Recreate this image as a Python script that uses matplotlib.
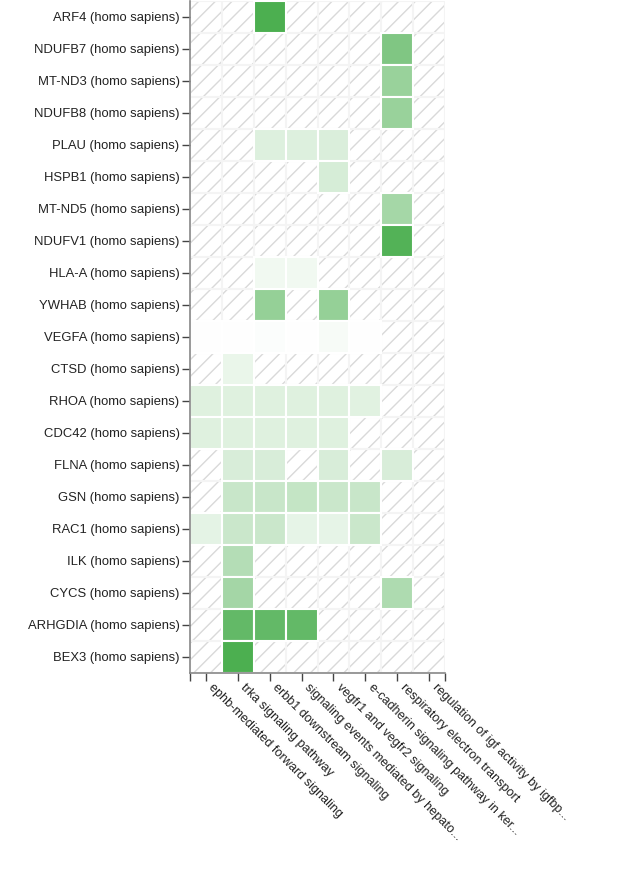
import numpy as np
import matplotlib
matplotlib.use("Agg")
from matplotlib import pyplot as plt
from matplotlib import transforms
from matplotlib.patches import Rectangle
from matplotlib.colors import LinearSegmentedColormap

plt.rcParams['font.family'] = ['Liberation Sans', 'DejaVu Sans']

genes = ["ARF4", "NDUFB7", "MT-ND3", "NDUFB8", "PLAU", "HSPB1", "MT-ND5",
         "NDUFV1", "HLA-A", "YWHAB", "VEGFA", "CTSD", "RHOA", "CDC42", "FLNA",
         "GSN", "RAC1", "ILK", "CYCS", "ARHGDIA", "BEX3"]
row_labels = [g + " (homo sapiens)" for g in genes]

pathways = ["ephb-mediated forward signaling",
            "trka signaling pathway",
            "erbb1 downstream signaling",
            "signaling events mediated by hepato...",
            "vegfr1 and vegfr2 signaling",
            "e-cadherin signaling pathway in ker...",
            "respiratory electron transport",
            "regulation of igf activity by igfbp..."]

nan = np.nan
# enrichment score per gene / pathway (nan = no association)
scores = np.array([
    [nan,  nan,  1.00, nan,  nan,  nan,  nan,  nan],   # ARF4
    [nan,  nan,  nan,  nan,  nan,  nan,  0.71, nan],   # NDUFB7
    [nan,  nan,  nan,  nan,  nan,  nan,  0.57, nan],   # MT-ND3
    [nan,  nan,  nan,  nan,  nan,  nan,  0.57, nan],   # NDUFB8
    [nan,  nan,  0.19, 0.19, 0.21, nan,  nan,  nan],   # PLAU
    [nan,  nan,  nan,  nan,  0.23, nan,  nan,  nan],   # HSPB1
    [nan,  nan,  nan,  nan,  nan,  nan,  0.50, nan],   # MT-ND5
    [nan,  nan,  nan,  nan,  nan,  nan,  0.96, nan],   # NDUFV1
    [nan,  nan,  0.08, 0.08, nan,  nan,  nan,  nan],   # HLA-A
    [nan,  nan,  0.59, nan,  0.59, nan,  nan,  nan],   # YWHAB
    [0.01, 0.01, 0.02, 0.01, 0.05, 0.01, nan,  nan],   # VEGFA
    [nan,  0.12, nan,  nan,  nan,  nan,  nan,  nan],   # CTSD
    [0.18, 0.18, 0.18, 0.18, 0.18, 0.17, nan,  nan],   # RHOA
    [0.18, 0.18, 0.18, 0.18, 0.18, nan,  nan,  nan],   # CDC42
    [nan,  0.22, 0.22, nan,  0.22, nan,  0.22, nan],   # FLNA
    [nan,  0.31, 0.31, 0.33, 0.30, 0.31, nan,  nan],   # GSN
    [0.15, 0.30, 0.30, 0.14, 0.14, 0.30, nan,  nan],   # RAC1
    [nan,  0.42, nan,  nan,  nan,  nan,  nan,  nan],   # ILK
    [nan,  0.51, nan,  nan,  nan,  nan,  0.45, nan],   # CYCS
    [nan,  0.87, 0.87, 0.87, nan,  nan,  nan,  nan],   # ARHGDIA
    [nan,  1.00, nan,  nan,  nan,  nan,  nan,  nan],   # BEX3
])

cmap = LinearSegmentedColormap.from_list("greens", ["#ffffff", "#4caf50"])

n_rows, n_cols = scores.shape

fig = plt.figure(figsize=(6.26, 8.73), dpi=100)
ax = fig.add_axes([190 / 626, 1 - 673 / 873, 255 / 626, 672 / 873])

# hatched background for empty cells
ax.add_patch(Rectangle((0, 0), n_cols, n_rows, facecolor="white",
                       edgecolor="#d9d9d9", hatch="//", linewidth=0, zorder=0))
ax.hlines(np.arange(n_rows + 1), 0, n_cols, color="#f4f4f4", lw=1.5, zorder=1)
ax.vlines(np.arange(n_cols + 1), 0, n_rows, color="#f4f4f4", lw=1.5, zorder=1)

for i in range(n_rows):
    for j in range(n_cols):
        v = scores[i, j]
        if np.isnan(v):
            continue
        ax.add_patch(Rectangle((j, i), 1, 1, facecolor=cmap(v),
                               edgecolor="white", linewidth=1.5, zorder=2))

ax.set_xlim(0, n_cols)
ax.set_ylim(n_rows, 0)

ax.set_yticks(np.arange(n_rows) + 0.5)
ax.set_yticklabels(row_labels, fontsize=9.4, color="#222222")
ax.set_xticks(np.arange(n_cols) + 0.5)
ax.set_xticklabels(pathways, fontsize=9.1, color="#222222", rotation=-45,
                   ha="left", va="top", rotation_mode="anchor")
ax.set_xticks([0, n_cols], minor=True)
ax.tick_params(axis="both", which="both", length=6, width=1, color="#444444")
ax.tick_params(axis="y", pad=1.5)
ax.tick_params(axis="x", pad=4)

# nudge the rotated labels like the original
shift = transforms.ScaledTranslation(9 / 100, 5 / 100, fig.dpi_scale_trans)
for lab in ax.get_xticklabels():
    lab.set_transform(lab.get_transform() + shift)

for side in ["top", "right"]:
    ax.spines[side].set_visible(False)
for side in ["left", "bottom"]:
    ax.spines[side].set_color("#888888")
    ax.spines[side].set_linewidth(1.2)

fig.savefig("out.png", dpi=100)
